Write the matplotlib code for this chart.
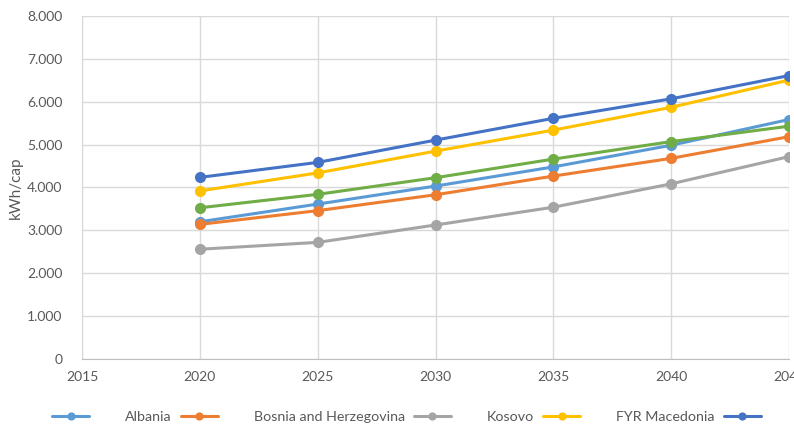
import matplotlib
matplotlib.use("Agg")
import matplotlib.pyplot as plt
from matplotlib.ticker import FuncFormatter

years = [2020, 2025, 2030, 2035, 2040, 2045]

# kWh per capita
series_names = ["Albania", "Bosnia and Herzegovina", "Kosovo", "FYR Macedonia", "Montenegro", "Serbia"]
light_blue = [3200, 3613, 4033, 4480, 4985, 5585]
orange = [3140, 3460, 3830, 4266, 4680, 5185]
grey = [2560, 2720, 3125, 3540, 4085, 4720]
yellow = [3920, 4340, 4848, 5338, 5870, 6505]
dark_blue = [4236, 4585, 5105, 5613, 6068, 6610]
green = [3527, 3840, 4228, 4662, 5070, 5430]

all_series = [light_blue, orange, grey, yellow, dark_blue, green]
colors = ['#5B9BD5', '#ED7D31', '#A5A5A5', '#FFC000', '#4472C4', '#70AD47']

text_col = '#595959'
plt.rcParams['font.family'] = ['Lato', 'DejaVu Sans']

fig = plt.figure(figsize=(7.94, 4.25), dpi=100)
ax = fig.add_axes([0.1033, 0.1553, 0.8904, 0.8071])

for name, vals, c in zip(series_names, all_series, colors):
    ax.plot(years, vals, color=c, lw=2.2, marker='o', markersize=7,
            label=name, solid_capstyle='round', zorder=3)

ax.set_xlim(2015, 2045)
ax.set_ylim(0, 8000)
ax.set_xticks(range(2015, 2046, 5))
ax.set_yticks(range(0, 8001, 1000))
ax.yaxis.set_major_formatter(FuncFormatter(lambda v, p: f"{int(v):,}".replace(",", ".")))

ax.grid(True, color='#D9D9D9', lw=1)
ax.set_axisbelow(True)
for s in ['top', 'right']:
    ax.spines[s].set_visible(False)
ax.spines['left'].set_color('#D9D9D9')
ax.spines['bottom'].set_color('#BFBFBF')
ax.tick_params(length=0, labelsize=10, colors=text_col)
ax.tick_params(axis='y', pad=14)
ax.tick_params(axis='x', pad=9)
ax.set_ylabel("kWh/cap", fontsize=11, color=text_col, labelpad=3)

leg = fig.legend(loc='center left', bbox_to_anchor=(0.0567, 0.019), ncol=6,
                 frameon=False, fontsize=10.3, borderpad=0, markerscale=0.7,
                 handlelength=2.6, handletextpad=2.5, columnspacing=0.63)
for t in leg.get_texts():
    t.set_color(text_col)

fig.savefig("out.png", dpi=100)
